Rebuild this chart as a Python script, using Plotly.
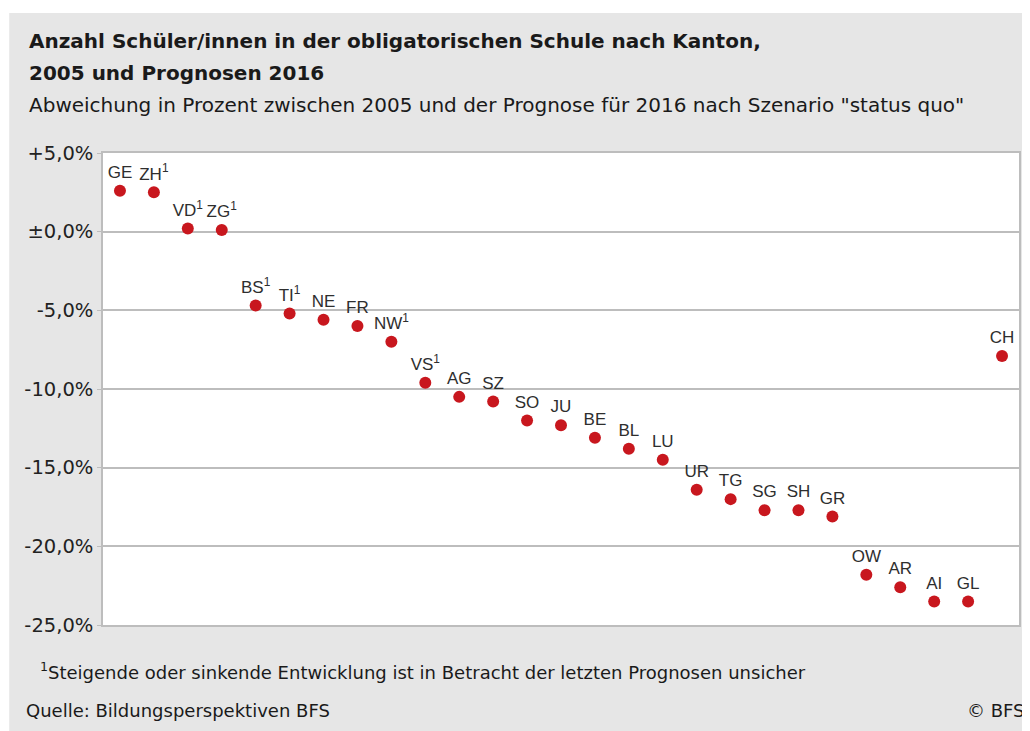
import plotly.graph_objects as go

# Abweichung in Prozent 2005 -> Prognose 2016, Szenario "status quo"
kantone = ["GE", "ZH", "VD", "ZG", "BS", "TI", "NE", "FR", "NW", "VS", "AG", "SZ", "SO", "JU",
           "BE", "BL", "LU", "UR", "TG", "SG", "SH", "GR", "OW", "AR", "AI", "GL", "CH"]
abweichung = [2.6, 2.5, 0.2, 0.1, -4.7, -5.2, -5.6, -6.0, -7.0, -9.6, -10.5, -10.8, -12.0, -12.3,
              -13.1, -13.8, -14.5, -16.4, -17.0, -17.7, -17.7, -18.1, -21.8, -22.6, -23.5, -23.5, -7.9]
# Kantone mit Fussnote 1 (unsichere Entwicklung)
unsicher = ["ZH", "VD", "ZG", "BS", "TI", "NW", "VS"]

tick_vals = [5, 0, -5, -10, -15, -20, -25]
tick_text = ["+5,0%", "±0,0%", "-5,0%", "-10,0%", "-15,0%", "-20,0%", "-25,0%"]

# page body has an 8px margin, so the figure is a bit smaller than the window
OFF = 8
W, H = 1022, 723
L, R, T, B = 95, 9, 145, 106
FONT = "DejaVu Sans, Verdana, sans-serif"
LABEL_FONT = "Liberation Sans, Arial, Helvetica, sans-serif"
GREY_BG = "#e6e6e6"
GRID = "#bdbdbd"
RED = "#c8171e"


def px(x):
    # screen pixel -> paper x
    return (x - OFF - L) / (W - L - R)


def py(y):
    # screen pixel -> paper y
    return (H - B - (y - OFF)) / (H - T - B)


labels = [k + "<sup>1</sup>" if k in unsicher else k for k in kantone]

fig = go.Figure()
fig.add_trace(go.Scatter(
    x=kantone, y=abweichung, mode="markers+text",
    text=labels, textposition="top center",
    textfont=dict(family=LABEL_FONT, size=17, color="#2e2e2e"),
    marker=dict(color=RED, size=12),
    cliponaxis=False, hoverinfo="x+y",
))

fig.update_xaxes(
    type="category", range=[-0.5, len(kantone) - 0.5],
    showticklabels=False, showgrid=False, zeroline=False,
    showline=True, mirror=True, linecolor=GRID, linewidth=1.5,
)
fig.update_yaxes(
    range=[-25, 5], tickvals=tick_vals, ticktext=tick_text,
    showgrid=True, gridcolor=GRID, gridwidth=1.5, zeroline=False,
    showline=True, mirror=True, linecolor=GRID, linewidth=1.5,
    ticks="outside", ticklen=4, tickcolor=GRID,
    tickfont=dict(family=FONT, size=19.5, color="#222222"),
)

texts = [
    ("Anzahl Schüler/innen in der obligatorischen Schule nach Kanton,", 27, 41, 20, True, "left"),
    ("2005 und Prognosen 2016", 27, 73, 20, True, "left"),
    ("Abweichung in Prozent zwischen 2005 und der Prognose für 2016 nach Szenario \"status quo\"", 27, 105, 20, False, "left"),
    ("<sup>1</sup>Steigende oder sinkende Entwicklung ist in Betracht der letzten Prognosen unsicher", 38, 671, 18, False, "left"),
    ("Quelle: Bildungsperspektiven BFS", 24, 710, 18, False, "left"),
    ("© BFS", 1029, 710, 18, False, "right"),
]
annotations = []
for txt, x, y, size, bold, anchor in texts:
    annotations.append(dict(
        text=f"<b>{txt}</b>" if bold else txt,
        x=px(x), y=py(y), xref="paper", yref="paper",
        xanchor=anchor, yanchor="middle", showarrow=False,
        font=dict(family=FONT, size=size, color="#1a1a1a"),
    ))

# white margin strips at top and left of the grey panel
shapes = [
    dict(type="rect", xref="paper", yref="paper", layer="below",
         x0=px(0), x1=px(9), y0=py(H + 20), y1=py(0), fillcolor="white", line_width=0),
    dict(type="rect", xref="paper", yref="paper", layer="below",
         x0=px(0), x1=px(W + 20), y0=py(13), y1=py(0), fillcolor="white", line_width=0),
]

fig.update_layout(
    width=W, height=H,
    margin=dict(l=L, r=R, t=T, b=B),
    paper_bgcolor=GREY_BG, plot_bgcolor="white",
    showlegend=False,
    annotations=annotations, shapes=shapes,
    font=dict(family=FONT),
)

fig.write_html("out.html")
